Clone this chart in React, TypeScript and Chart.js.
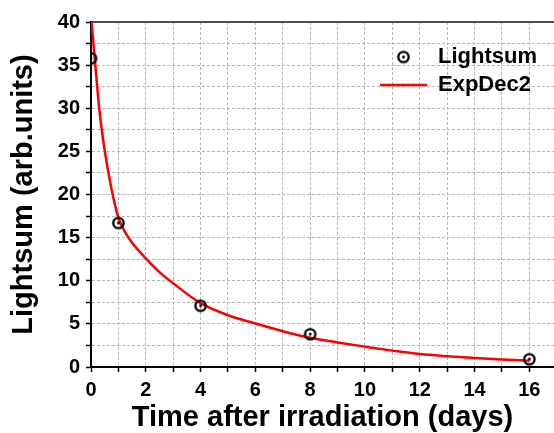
import React, { useEffect, useRef } from 'react';
import { Chart, registerables } from 'chart.js';

Chart.register(...registerables);

// ---- data ----
const timeDays = [0, 1, 4, 8, 16];
const lightsum = [35.8, 16.7, 7.1, 3.8, 0.9];

const fitX = [0, 0.15, 0.3, 0.5, 0.75, 1, 1.25, 1.5, 2, 2.5, 3, 4, 5, 6, 7, 8, 9, 10, 11, 12, 13, 14, 15, 16];
const fitY = [40.7, 35.3, 30.0, 25.1, 20.6, 17.3, 15.6, 14.4, 12.6, 11.0, 9.7, 7.4, 6.0, 5.05, 4.15, 3.4, 2.85, 2.36, 1.9, 1.5, 1.25, 1.05, 0.87, 0.73];

const xTickLabels = ['0', '2', '4', '6', '8', '10', '12', '14', '16'];
const yTickLabels = ['0', '5', '10', '15', '20', '25', '30', '35', '40'];

const seriesNames = ['Lightsum', 'ExpDec2'];
const xTitle = 'Time after irradiation (days)';
const yTitle = 'Lightsum (arb.units)';

const W = 554;
const H = 433;

function makeMarker(): HTMLCanvasElement {
  const c = document.createElement('canvas');
  c.width = 15;
  c.height = 15;
  const g = c.getContext('2d')!;
  g.strokeStyle = '#000';
  g.lineWidth = 2.3;
  g.beginPath();
  g.arc(7.5, 7.5, 5.2, 0, Math.PI * 2);
  g.stroke();
  g.fillStyle = '#000';
  g.beginPath();
  g.arc(7.5, 7.5, 1.4, 0, Math.PI * 2);
  g.fill();
  return c;
}

const legendShift = {
  id: 'legendShift',
  afterLayout(chart: any) {
    const lg = chart.legend;
    const ca = chart.chartArea;
    if (!lg || !ca) return;
    lg.left = ca.right - 180;
    lg.right = lg.left + 180;
    lg.top = ca.top + 18;
    lg.bottom = lg.top + 80;
  },
};

export default function App() {
  const ref = useRef<HTMLCanvasElement>(null);

  useEffect(() => {
    document.documentElement.style.overflow = 'hidden';
    document.body.style.margin = '0';
    document.body.style.overflow = 'hidden';
    Chart.defaults.font.family = "'Liberation Sans', Arial, sans-serif";
    Chart.defaults.color = '#000';
    const marker = makeMarker();

    const gridCommon = {
      color: '#b8b8b8',
      lineWidth: 1,
      drawTicks: true,
      tickLength: 5,
      tickColor: '#000',
      tickWidth: 1.5,
      tickBorderDash: [],
    };
    const borderCommon = { display: true, color: '#000', width: 2, dash: [3, 2] };
    const tickFont = { size: 20, weight: 'bold' as const };
    const titleFont = { size: 29, weight: 'bold' as const, lineHeight: 1 };

    const chart = new Chart(ref.current!, {
      type: 'scatter',
      data: {
        datasets: [
          {
            label: seriesNames[0],
            data: timeDays.map((x, i) => ({ x, y: lightsum[i] })),
            pointStyle: marker as any,
            pointRadius: 7,
            pointHoverRadius: 7,
            showLine: false,
            clip: 0 as any,
          },
          {
            label: seriesNames[1],
            data: fitX.map((x, i) => ({ x, y: fitY[i] })),
            showLine: true,
            borderColor: '#ff0000',
            backgroundColor: '#ff0000',
            borderWidth: 2.5,
            pointBorderColor: '#ff0000',
            pointBorderWidth: 2.5,
            pointRadius: 0,
            pointHoverRadius: 0,
            pointStyle: 'line',
            cubicInterpolationMode: 'monotone',
            clip: 0 as any,
          },
        ],
      },
      options: {
        animation: false,
        responsive: false,
        maintainAspectRatio: false,
        devicePixelRatio: 1,
        layout: { padding: 0, autoPadding: false },
        plugins: {
          tooltip: { enabled: false },
          legend: {
            position: 'chartArea' as any,
            align: 'start',
            labels: {
              usePointStyle: true,
              pointStyleWidth: 47,
              padding: 6,
              color: '#000',
              font: { size: 22, weight: 'bold' },
            },
          },
        },
        scales: {
          x: {
            type: 'linear',
            position: 'bottom',
            min: 0,
            max: 16.9,
            afterFit: (s: any) => {
              s.height = 66;
              s.paddingLeft = 0;
              s.paddingRight = 0;
            },
            ticks: {
              stepSize: 1,
              includeBounds: false,
              autoSkip: false,
              maxRotation: 0,
              padding: 6,
              color: '#000',
              font: tickFont,
              callback: (v: any) => (xTickLabels.includes(String(v)) ? String(v) : ''),
            },
            grid: gridCommon,
            border: borderCommon,
            title: {
              display: true,
              text: xTitle,
              color: '#000',
              font: titleFont,
              padding: { top: 0, bottom: 1 },
            },
          },
          xTop: {
            type: 'linear',
            position: 'top',
            min: 0,
            max: 16.9,
            afterFit: (s: any) => {
              s.height = 22;
              s.paddingLeft = 0;
              s.paddingRight = 0;
            },
            ticks: { display: false },
            grid: { display: false, drawTicks: false },
            border: { display: true, color: '#4d4d4d', width: 2 },
          },
          y: {
            type: 'linear',
            position: 'left',
            min: 0,
            max: 40,
            afterFit: (s: any) => {
              s.width = 91;
              s.paddingTop = 0;
              s.paddingBottom = 0;
            },
            ticks: {
              stepSize: 2.5,
              autoSkip: false,
              padding: 6,
              color: '#000',
              font: tickFont,
              callback: (v: any) => (yTickLabels.includes(String(v)) ? String(v) : ''),
            },
            grid: gridCommon,
            border: borderCommon,
            title: {
              display: true,
              text: yTitle,
              color: '#000',
              font: titleFont,
              padding: { top: 9, bottom: 0 },
            },
          },
        },
      },
      plugins: [legendShift],
    } as any);

    return () => chart.destroy();
  }, []);

  return (
    <div style={{ width: W, height: H, position: 'relative' }}>
      <canvas ref={ref} width={W} height={H} style={{ display: 'block' }} />
    </div>
  );
}
